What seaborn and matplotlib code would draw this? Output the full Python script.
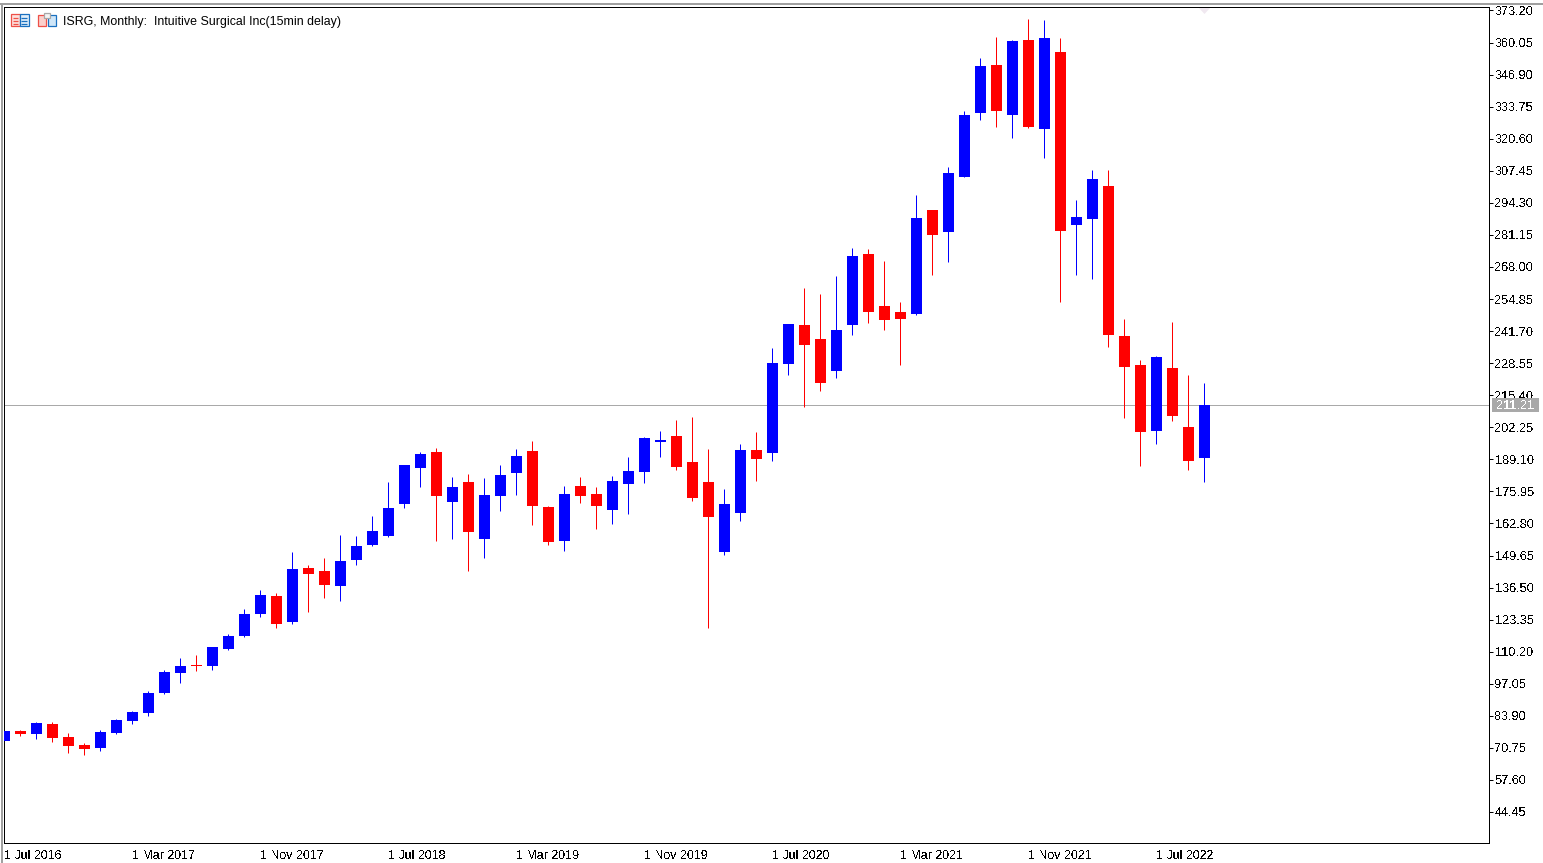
import matplotlib
matplotlib.use("Agg")
import matplotlib.pyplot as plt
from matplotlib.patches import Rectangle, Polygon
import numpy as np
import pandas as pd
import seaborn as sns

# ISRG monthly candles, July 2016 to October 2022
opens = [73.56, 77.67, 76.56, 80.54, 75.21, 71.92, 70.69, 76.85, 81.77, 85.05,
         93.25, 101.46, 104.74, 104.33, 111.29, 116.63, 125.65, 133.04, 122.37, 144.52,
         143.29, 137.14, 147.80, 153.96, 157.65, 170.77, 185.54, 192.10, 171.59, 179.80,
         156.42, 174.06, 183.49, 192.51, 169.54, 155.60, 178.16, 174.88, 168.31, 178.98,
         183.90, 196.21, 198.66, 187.96, 179.80, 151.09, 167.08, 192.92, 191.69, 228.20,
         244.20, 238.45, 225.33, 244.20, 273.32, 252.01, 249.53, 248.71, 291.36, 282.34,
         304.90, 331.15, 350.84, 330.33, 361.09, 324.59, 356.17, 285.21, 287.67, 301.21,
         239.68, 227.79, 200.72, 226.56, 202.36, 189.64]
highs = [77.67, 78.08, 81.36, 81.24, 76.85, 72.74, 78.08, 82.59, 85.87, 94.07,
         102.69, 107.61, 108.84, 112.12, 117.45, 127.70, 135.50, 134.27, 151.09, 145.75,
         148.63, 158.06, 157.65, 165.85, 179.80, 186.77, 192.10, 193.74, 181.85, 183.08,
         181.44, 186.77, 193.33, 196.61, 169.95, 178.16, 181.85, 177.75, 182.26, 190.05,
         198.25, 200.71, 205.23, 206.46, 193.33, 176.93, 195.38, 200.31, 234.76, 244.61,
         259.37, 256.91, 264.29, 275.78, 275.37, 270.45, 253.63, 297.52, 291.36, 309.00,
         331.97, 353.71, 362.32, 361.09, 369.71, 369.30, 361.91, 295.47, 307.77, 307.77,
         246.66, 229.84, 231.48, 245.42, 223.69, 220.40]
lows = [73.56, 75.74, 74.39, 73.16, 68.65, 67.82, 69.46, 76.44, 80.54, 83.82,
        92.84, 97.36, 102.28, 102.69, 110.89, 116.22, 124.42, 119.91, 121.55, 126.48,
        132.22, 130.99, 145.75, 153.55, 157.24, 169.13, 177.75, 155.60, 156.42, 143.29,
        148.63, 167.90, 174.47, 162.16, 153.96, 151.50, 171.18, 160.52, 162.57, 166.67,
        179.39, 190.05, 184.72, 172.01, 119.91, 149.86, 163.80, 180.21, 188.41, 223.69,
        210.56, 217.12, 222.45, 240.10, 245.01, 242.14, 227.79, 248.30, 264.70, 270.03,
        304.90, 328.28, 325.41, 320.90, 325.00, 312.69, 253.63, 264.70, 263.06, 235.17,
        206.05, 186.36, 195.38, 204.82, 184.72, 179.80]
closes = [77.67, 76.44, 80.95, 74.80, 71.52, 70.28, 77.26, 82.18, 85.46, 93.25,
          101.87, 104.33, 104.33, 112.12, 116.63, 125.65, 133.45, 121.55, 144.11, 142.06,
          137.55, 147.40, 153.55, 159.70, 169.13, 186.77, 191.28, 174.06, 177.75, 159.29,
          174.47, 182.67, 190.46, 169.95, 155.19, 174.88, 174.06, 169.95, 180.21, 184.31,
          197.84, 197.03, 185.95, 173.24, 165.44, 170.77, 192.92, 189.23, 228.61, 244.61,
          236.00, 220.41, 242.14, 272.50, 249.53, 246.25, 246.66, 288.08, 281.11, 306.54,
          330.33, 350.43, 331.97, 360.68, 325.41, 361.91, 282.75, 288.49, 304.08, 240.09,
          226.97, 200.31, 231.07, 206.87, 188.41, 211.21]

price_ticks = [373.20, 360.05, 346.90, 333.75, 320.60, 307.45, 294.30, 281.15, 268.00,
               254.85, 241.70, 228.55, 215.40, 202.25, 189.10, 175.95, 162.80, 149.65,
               136.50, 123.35, 110.20, 97.05, 83.90, 70.75, 57.60, 44.45]
date_labels = ["1 Jul 2016", "1 Mar 2017", "1 Nov 2017", "1 Jul 2018", "1 Mar 2019",
               "1 Nov 2019", "1 Jul 2020", "1 Mar 2021", "1 Nov 2021", "1 Jul 2022"]
date_positions = [0, 8, 16, 24, 32, 40, 48, 56, 64, 72]
last_price = 211.21
chart_title = "ISRG, Monthly:  Intuitive Surgical Inc(15min delay)"

W, H = 1543, 863
FONT = "Liberation Sans"
PRICE_SIZE = 9.2
DATE_SIZE = 8.9
UP, DOWN = "#0000ff", "#ff0000"

sns.set_theme(style="white")
plt.rcParams["font.family"] = [FONT]
plt.rcParams["text.antialiased"] = False

candles = pd.DataFrame({"pos": np.arange(len(opens)), "open": opens, "high": highs,
                        "low": lows, "close": closes})
candles["dir"] = np.where(candles["close"] >= candles["open"], "up", "down")
candles.loc[12, "dir"] = "down"
candles["base"] = candles[["open", "close"]].min(axis=1)
candles["body"] = (candles["close"] - candles["open"]).abs()

fig = plt.figure(figsize=(W / 100, H / 100), dpi=100, facecolor="white")


def px_rect(x0, y0, x1, y1):
    return [x0 / W, 1 - y1 / H, (x1 - x0) / W, (y1 - y0) / H]


LEFT, TOP, RIGHT, BOTTOM = 4.3, 7.3, 1489.3, 843.3
ax = fig.add_axes(px_rect(LEFT, TOP, RIGHT, BOTTOM))

# Wicks: one vertical segment per candle
wicks = candles.melt(id_vars=["pos", "dir"], value_vars=["low", "high"], value_name="price")
sns.lineplot(data=wicks, x="pos", y="price", units="pos", estimator=None, hue="dir",
             palette={"up": UP, "down": DOWN}, linewidth=0.72, legend=False, ax=ax,
             solid_capstyle="butt", sort=False, zorder=2)

# Bodies: floating bars between open and close
for direction, colour in (("up", UP), ("down", DOWN)):
    sub = candles[candles["dir"] == direction].sort_values("pos")
    sns.barplot(data=sub, x="pos", y="body", bottom=sub["base"].to_numpy(), native_scale=True,
                color=colour, saturation=1, width=11 / 16, linewidth=0, errorbar=None,
                ax=ax, zorder=3)

ax.set_xlim(0, (RIGHT - LEFT) / 16)
y_per_px = 0.41017
ax.set_ylim(377.5 - y_per_px * BOTTOM, 377.5 - y_per_px * TOP)

ax.set_yticks(price_ticks)
ax.set_yticklabels([f"{v:.2f}" for v in price_ticks])
ax.yaxis.tick_right()
ax.set_xticks(date_positions)
ax.set_xticklabels(date_labels, ha="left")
ax.set_xlabel("")
ax.set_ylabel("")
ax.tick_params(axis="both", which="major", direction="out", length=3, width=0.72,
               color="black", labelcolor="black", pad=1.0)
ax.tick_params(axis="y", labelsize=PRICE_SIZE)
ax.tick_params(axis="x", labelsize=DATE_SIZE, pad=1.9)
for spine in ax.spines.values():
    spine.set_visible(True)
    spine.set_color("black")
    spine.set_linewidth(0.72)

# Last price line and its tag on the price scale
ax.axhline(last_price, color="#a9a9a9", linewidth=0.72, zorder=1)
tag = Rectangle((1492 / W, 1 - 412 / H), 47 / W, 13.5 / H, transform=fig.transFigure,
                facecolor="#a9a9a9", edgecolor="none", zorder=5)
fig.add_artist(tag)
fig.text(1515.5 / W, 1 - 405.5 / H, f"{last_price:.2f}", color="white", fontsize=PRICE_SIZE,
         ha="center", va="center", zorder=6)

fig.text(63 / W, 1 - 22.3 / H, chart_title, color="black", fontsize=8.9, ha="left",
         va="center", zorder=6, antialiased=True)

# Window chrome above and left of the chart
fig.add_artist(Rectangle((0, 1 - 5 / H), 1, 1.5 / H, transform=fig.transFigure,
                         facecolor="#a0a0a0", edgecolor="none"))
fig.add_artist(Rectangle((1 / W, 0), 1.7 / W, 1 - 3 / H, transform=fig.transFigure,
                         facecolor="#a0a0a0", edgecolor="none"))


# Toolbar glyphs beside the title
def glyph_rect(x0, y0, x1, y1, face, edge):
    fig.add_artist(Rectangle((x0 / W, 1 - y1 / H), (x1 - x0) / W, (y1 - y0) / H,
                             transform=fig.transFigure, facecolor=face, edgecolor=edge,
                             linewidth=0.9, zorder=6))


glyph_rect(10.5, 14.5, 19.5, 26.5, "#fde0dc", "#ee5048")
glyph_rect(19.5, 14.5, 28.5, 26.5, "#e0eefa", "#1a70c0")
for yy in (18, 21, 24):
    glyph_rect(12.5, yy, 18, yy + 0.5, "#ee5048", "#ee5048")
    glyph_rect(21, yy, 27, yy + 0.5, "#1a70c0", "#1a70c0")
glyph_rect(37.5, 15.5, 45.5, 26.5, "#fbd0cc", "#ee5048")
glyph_rect(47.5, 15.5, 55.5, 26.5, "#cfe6f8", "#1a70c0")
glyph_rect(43.5, 13.5, 49.5, 18.5, "#f4f4f4", "#a8a8a8")

# Faint shift marker at the top of the chart
fig.add_artist(Polygon([[1199 / W, 1 - 8 / H], [1210 / W, 1 - 8 / H], [1204.5 / W, 1 - 14 / H]],
                       transform=fig.transFigure, facecolor="#f0e8f0", edgecolor="none"))

fig.savefig("out.png", dpi=100, facecolor="white")
